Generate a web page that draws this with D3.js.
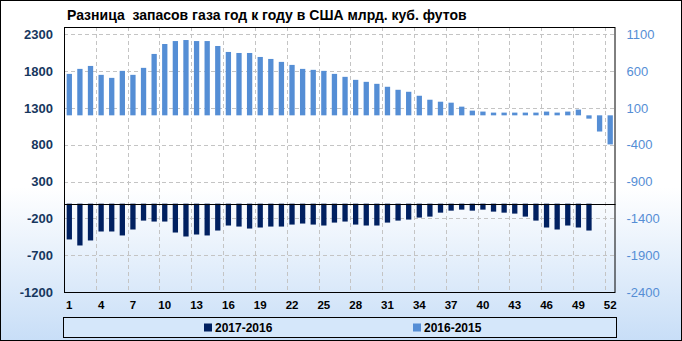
<!DOCTYPE html>
<html>
<head>
<meta charset="utf-8">
<script src="https://d3js.org/d3.v7.min.js"></script>
<style>
  body { margin: 0; }
  svg { display: block; }
</style>
</head>
<body>
<div id="chart"></div>
<script>
// weeks of the year (categories)
let weeks = [1,2,3,4,5,6,7,8,9,10,11,12,13,14,15,16,17,18,19,20,21,22,23,24,25,26,
             27,28,29,30,31,32,33,34,35,36,37,38,39,40,41,42,43,44,45,46,47,48,49,50,51,52];
let xTickLabels = [1,4,7,10,13,16,19,22,25,28,31,34,37,40,43,46,49,52];
let leftTicks = [-1200,-700,-200,300,800,1300,1800,2300];
let rightTicks = [-2400,-1900,-1400,-900,-400,100,600,1100];

// 2017-2016, left axis
let diff1716 = [-486,-568,-500,-378,-378,-432,-351,-230,-243,-243,-392,-446,-419,-432,-365,-297,
                -311,-338,-324,-311,-311,-284,-270,-284,-297,-257,-243,-284,-297,-297,-257,-230,
                -216,-189,-176,-122,-95,-81,-95,-81,-108,-122,-135,-176,-230,-324,-351,-297,-324,-365,
                null,null];
// 2016-2015, right axis
let diff1615 = [563,631,671,550,509,604,550,645,834,969,1009,1023,1009,1009,942,861,847,847,793,766,
                726,685,631,618,604,563,523,482,455,428,388,347,320,266,212,185,172,118,64,51,
                37,37,37,37,37,51,37,51,78,-45,-220,-395];

let width = 682, height = 341;
let plot = {left: 64, right: 615.5, top: 27, bottom: 292};
let darkBlue = "#002060", lightBlue = "#558ed5";

let svg = d3.select("#chart").append("svg")
    .attr("width", width)
    .attr("height", height);

let grad = svg.append("defs").append("linearGradient")
    .attr("id", "bg").attr("x1", 0).attr("y1", 0).attr("x2", 0).attr("y2", 1);
grad.append("stop").attr("offset", "0").attr("stop-color", "#ffffff");
grad.append("stop").attr("offset", "0.55").attr("stop-color", "#ffffff");
grad.append("stop").attr("offset", "1").attr("stop-color", "#c8def7");

svg.append("rect")
    .attr("x", 0.5).attr("y", 0.5)
    .attr("width", width - 1).attr("height", height - 1)
    .attr("fill", "url(#bg)")
    .attr("stroke", "#000");

let x = d3.scaleBand()
    .domain(weeks)
    .range([plot.left, plot.right])
    .paddingInner(0.5)
    .paddingOuter(0.25);
let yL = d3.scaleLinear().domain([-1200, 2400]).range([plot.bottom, plot.top]);
let yR = d3.scaleLinear().domain([-2400, 1200]).range([plot.bottom, plot.top]);
let half = (x.step() - x.bandwidth()) / 2;

// grid
let grid = svg.append("g")
    .attr("stroke", "#c4c4c4")
    .attr("stroke-dasharray", "4,3");
grid.selectAll(".hg").data(leftTicks.filter(d => d > -1200))
    .enter().append("line")
    .attr("x1", plot.left).attr("x2", plot.right)
    .attr("y1", d => Math.round(yL(d)) + 0.5)
    .attr("y2", d => Math.round(yL(d)) + 0.5);
grid.selectAll(".vg").data(xTickLabels.filter(d => d > 1))
    .enter().append("line")
    .attr("x1", d => Math.round(x(d) - half) + 0.5)
    .attr("x2", d => Math.round(x(d) - half) + 0.5)
    .attr("y1", plot.top).attr("y2", plot.bottom);

// bars
svg.append("g").selectAll("rect")
    .data(weeks.map((w, i) => ({w: w, v: diff1615[i]})))
    .enter().append("rect")
    .attr("x", d => x(d.w))
    .attr("width", x.bandwidth())
    .attr("y", d => Math.min(yR(d.v), yR(0)))
    .attr("height", d => Math.abs(yR(d.v) - yR(0)))
    .attr("fill", lightBlue);

svg.append("g").selectAll("rect")
    .data(weeks.map((w, i) => ({w: w, v: diff1716[i]})).filter(d => d.v !== null))
    .enter().append("rect")
    .attr("x", d => x(d.w))
    .attr("width", x.bandwidth())
    .attr("y", d => Math.min(yL(d.v), yL(0)))
    .attr("height", d => Math.abs(yL(d.v) - yL(0)))
    .attr("fill", darkBlue);

// zero line of left axis
svg.append("line")
    .attr("x1", plot.left).attr("x2", plot.right)
    .attr("y1", Math.round(yL(0)) + 0.5).attr("y2", Math.round(yL(0)) + 0.5)
    .attr("stroke", "#000");

// plot frame
svg.append("rect")
    .attr("x", plot.left + 0.5).attr("y", plot.top + 0.5)
    .attr("width", plot.right - plot.left - 1).attr("height", plot.bottom - plot.top)
    .attr("fill", "none").attr("stroke", "#000");

// axes
let font = "'Liberation Sans', Arial, sans-serif";
let plain = d => String(d);
let leftAxis = d3.axisLeft(yL).tickValues(leftTicks).tickFormat(plain).tickSize(0).tickPadding(11);
svg.append("g")
    .attr("transform", `translate(${plot.left},0)`)
    .call(leftAxis)
    .call(g => g.select(".domain").remove())
    .selectAll("text")
    .attr("fill", "#17375e")
    .style("font", `bold 13px ${font}`);

let rightAxis = d3.axisRight(yR).tickValues(rightTicks).tickFormat(plain).tickSize(0).tickPadding(11);
svg.append("g")
    .attr("transform", `translate(${plot.right},0)`)
    .call(rightAxis)
    .call(g => g.select(".domain").remove())
    .selectAll("text")
    .attr("fill", lightBlue)
    .style("font", `13px ${font}`);

let bottomAxis = d3.axisBottom(x).tickValues(xTickLabels).tickSize(0).tickPadding(9);
svg.append("g")
    .attr("transform", `translate(0,${plot.bottom})`)
    .call(bottomAxis)
    .call(g => g.select(".domain").remove())
    .selectAll("text")
    .attr("fill", "#000")
    .style("font", `bold 11.5px ${font}`);

// title
svg.append("text")
    .attr("x", 67).attr("y", 20)
    .style("font", `bold 14px ${font}`)
    .attr("fill", "#000")
    .attr("xml:space", "preserve")
    .text("Разница  запасов газа год к году в США млрд. куб. футов");

// legend
let legend = svg.append("g");
legend.append("rect")
    .attr("x", 63.5).attr("y", 317.5)
    .attr("width", 553).attr("height", 20)
    .attr("fill", "#d5e7fa").attr("stroke", "#000");
let items = [{name: "2017-2016", color: darkBlue, x: 204}, {name: "2016-2015", color: lightBlue, x: 413}];
items.forEach(function(it){
    legend.append("rect")
        .attr("x", it.x).attr("y", 323.5)
        .attr("width", 8).attr("height", 8)
        .attr("fill", it.color);
    legend.append("text")
        .attr("x", it.x + 11).attr("y", 331.5)
        .style("font", `bold 12px ${font}`)
        .attr("fill", "#000")
        .text(it.name);
});
</script>
</body>
</html>
